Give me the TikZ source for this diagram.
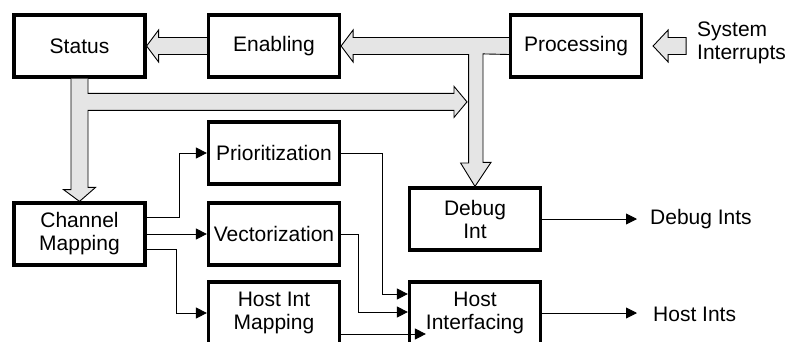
\documentclass[tikz,border=0pt]{standalone}
\usepackage{fontspec}
\setmainfont{Liberation Sans}
\usetikzlibrary{arrows.meta, calc}

\begin{document}
\begin{tikzpicture} [
						x=1pt, y=-1pt,
						font=\fontsize{21pt}{23pt}\selectfont,
						block/.style={draw, line width=3.2pt, minimum width=131pt, minimum height=62pt, align=center, inner sep=0pt},
						label/.style={inner sep=0pt, align=left},
						bus/.style={draw, line width=0.9pt, fill=gray!20, line join=miter},
						wire/.style={line width=0.9pt, -{Triangle[length=11pt, width=11pt]}}
					]

\useasboundingbox (0,0) rectangle (785,341);
\clip (0,0) rectangle (785,341);

\node (st) [block] at (79.5,46) {Status};
\node (en) [block] at (274,46) {Enabling};
\node (pr) [block] at (576,46) {Processing};
\node (si) [label, anchor=west] at (697,43) {System\\Interrupts};
\node (pz) [block] at (274,153) {Prioritization};
\node (cm) [block] at (79.5,234) {Channel\\Mapping};
\node (vz) [block] at (274,234) {Vectorization};
\node (hm) [block] at (274,313) {Host Int\\Mapping};
\node (db) [block] at (475,219) {Debug\\Int};
\node (hi) [block] at (475,313) {Host\\Interfacing};
\node (do) [label, anchor=west] at (650,219) {Debug Ints};
\node (ho) [label, anchor=west] at (653,314) {Host Ints};

\draw[bus] ($(en.west)+(0,-8.5)$) -- ($(st.east)+(12,-8.5)$) -- ++(0,-7.5) -- (st.east)
	-- ++(12,16) -- ++(0,-7.5) -- ($(en.west)+(0,8.5)$);
\draw[bus] ($(pr.west)+(0,-8.5)$) -- ($(en.east)+(12,-8.5)$) -- ++(0,-7.5) -- (en.east)
	-- ++(12,16) -- ++(0,-7.5) -- ++(115.5,0) -- ++(0,108.5) -- ++(-8,0) -- (db.north)
	-- ++(16,-24) -- ++(-8,0) -- ++(0,-108.5) -- ($(pr.west)+(0,8.5)$);
\draw[bus] ($(pr.east)+(43,-8.5)$) -- ++(-18,0) -- ++(0,-7.5) -- ($(pr.east)+(10,0)$)
	-- ++(15,16) -- ++(0,-7.5) -- ++(18,0) -- cycle;
\draw[bus] ($(st.south)+(-8.5,0)$) -- ++(0,111) -- ++(-7.5,0) -- (cm.north)
	-- ++(16,-14) -- ++(-7.5,0) -- ++(0,-77) -- ++(366,0) -- ++(0,7) -- ++(13,-15.5)
	-- ++(-13,-15.5) -- ++(0,7) -- ++(-366,0) -- ($(st.south)+(8.5,0)$);

\draw[wire] ($(cm.east)+(0,-17)$) -- ++(33,0) |- (pz.west);
\draw[wire] (cm.east) -- (vz.west);
\draw[wire] ($(cm.east)+(0,15)$) -- ++(30,0) |- (hm.west);
\draw[wire] (pz.east) -- ++(41,0) |- ($(hi.west)+(0,-19)$);
\draw[wire] (vz.east) -- ++(17,0) |- ($(hi.west)+(0,-1)$);
\draw[wire] ($(hm.east)+(0,21)$) -- ($(hi.west)+(18,21)$);
\draw[wire, shorten >=13pt] (db.east) -- (do.west);
\draw[wire, shorten >=16pt] (hi.east) -- (hi.east -| ho.west);
\end{tikzpicture}
\end{document}
